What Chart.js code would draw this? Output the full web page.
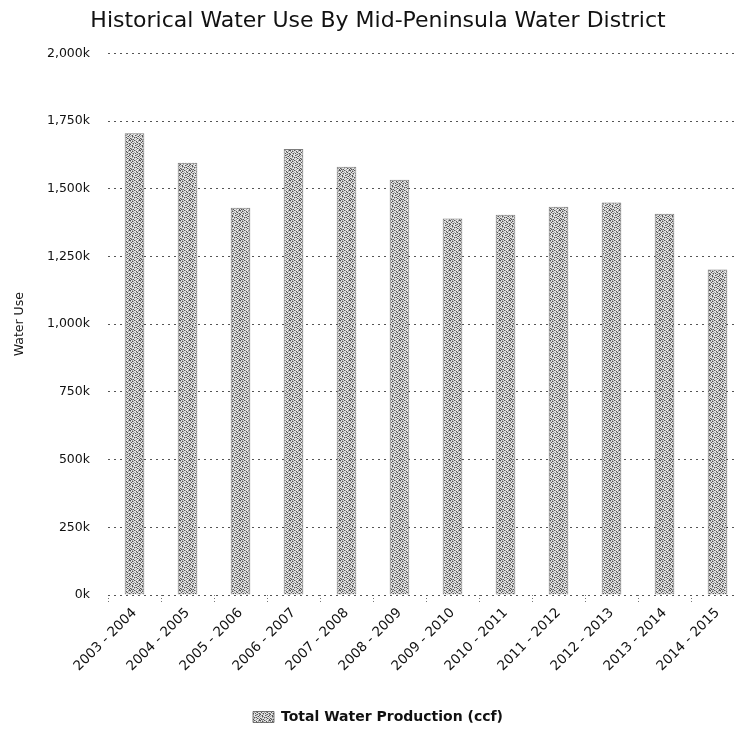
<!DOCTYPE html>
<html>
<head>
<meta charset="utf-8">
<title>Historical Water Use</title>
<script src="https://cdn.jsdelivr.net/npm/chart.js@4.4.1/dist/chart.umd.min.js"></script>
<style>
  html, body { margin: 0; padding: 0; background: #fff; overflow: hidden; }
  #chart { display: block; }
</style>
</head>
<body>
<canvas id="chart" width="748" height="736"></canvas>
<script>
// values (ccf)
const seasons = [
  "2003 - 2004", "2004 - 2005", "2005 - 2006", "2006 - 2007",
  "2007 - 2008", "2008 - 2009", "2009 - 2010", "2010 - 2011",
  "2011 - 2012", "2012 - 2013", "2013 - 2014", "2014 - 2015"
];
const production = [
  1705000, 1596000, 1430000, 1647000, 1581000, 1533000,
  1390000, 1404000, 1434000, 1449000, 1408000, 1202000
];
const yTicks = [0, 250000, 500000, 750000, 1000000, 1250000, 1500000, 1750000, 2000000];

const FONT = "'DejaVu Sans', 'Liberation Sans', sans-serif";

// grainy grey fill like the photocopied bars
const TEXTURE = [
  "#.+.#+..+#",
  "+.#+..#.+.",
  ".#..+.+#..",
  "+.+#.#..+#",
  "#..+..+#.+",
  ".+#..#+..#",
  "+.#+...+#.",
  "..+.#+#..+",
  "#+..+..#+.",
  ".#+#..+..#"
];
const SHADES = { "#": "#555555", "+": "#a2a2a2", ".": "#e4e4e4" };

function makeTexture(ctx) {
  const tile = document.createElement("canvas");
  tile.width = TEXTURE[0].length;
  tile.height = TEXTURE.length;
  const t = tile.getContext("2d");
  TEXTURE.forEach((row, y) => {
    [...row].forEach((c, x) => {
      t.fillStyle = SHADES[c];
      t.fillRect(x, y, 1, 1);
    });
  });
  return ctx.createPattern(tile, "repeat");
}

const ctx = document.getElementById("chart").getContext("2d");
const texture = makeTexture(ctx);

new Chart(ctx, {
  type: "bar",
  data: {
    labels: seasons,
    datasets: [{
      label: "Total Water Production (ccf)",
      data: production,
      backgroundColor: texture,
      borderColor: "rgba(70,70,70,0.7)",
      borderWidth: 1,
      categoryPercentage: 1,
      barPercentage: 0.37
    }]
  },
  options: {
    responsive: false,
    animation: false,
    layout: { padding: { left: 12, right: 4, top: 0, bottom: 2 } },
    plugins: {
      title: {
        display: true,
        text: "Historical Water Use By Mid-Peninsula Water District",
        color: "#111",
        font: { family: FONT, size: 22, weight: "normal" },
        padding: { top: 8, bottom: 19 }
      },
      legend: {
        position: "bottom",
        labels: {
          color: "#111",
          font: { family: FONT, size: 14, weight: "bold" },
          boxWidth: 21,
          boxHeight: 11,
          padding: 10
        }
      },
      tooltip: { enabled: false }
    },
    scales: {
      x: {
        border: { display: false },
        grid: {
          drawOnChartArea: false,
          drawTicks: true,
          tickLength: 8,
          tickColor: "#777",
          tickBorderDash: [1, 2]
        },
        ticks: {
          color: "#111",
          font: { family: FONT, size: 13.5 },
          maxRotation: 45,
          minRotation: 45,
          padding: 2
        },
        afterFit(scale) { scale.height = 105; }
      },
      y: {
        min: 0,
        max: 2000000,
        border: { display: false, dash: [2, 4] },
        grid: { color: "#555", drawTicks: false },
        afterBuildTicks(scale) {
          scale.ticks = yTicks.map(v => ({ value: v }));
        },
        ticks: {
          color: "#111",
          font: { family: FONT, size: 12.5 },
          padding: 18,
          callback: v => (v / 1000).toLocaleString("en-US") + "k"
        },
        title: {
          display: true,
          text: "Water Use",
          color: "#111",
          font: { family: FONT, size: 12.5 },
          padding: { top: 0, bottom: 0 }
        },
        afterFit(scale) { scale.width = 96; }
      }
    }
  }
});
</script>
</body>
</html>
